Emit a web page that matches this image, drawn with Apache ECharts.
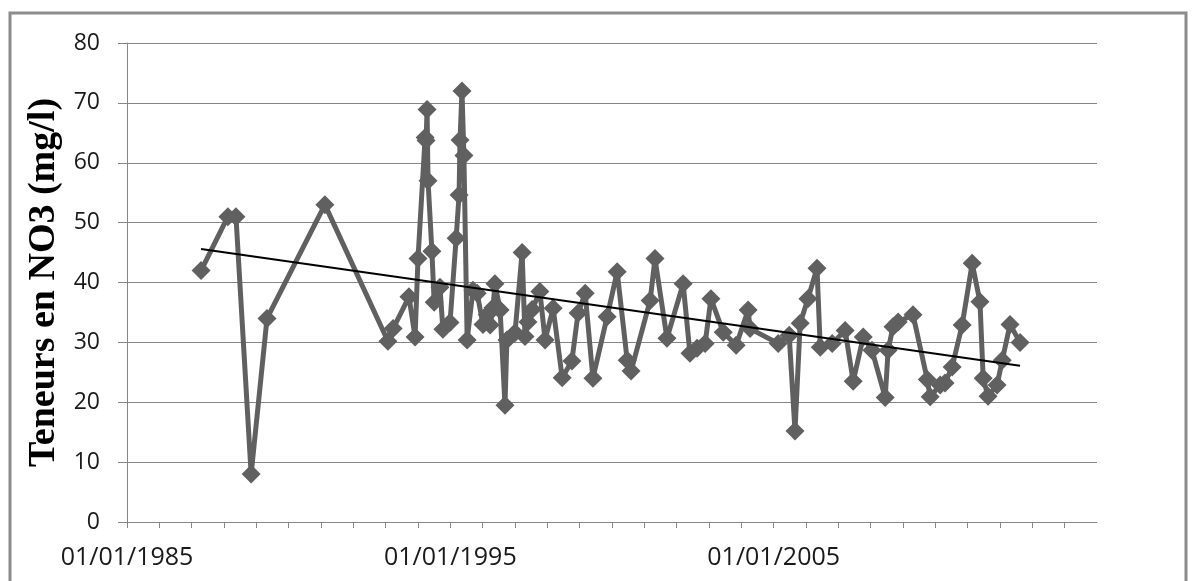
<!DOCTYPE html>
<html>
<head>
<meta charset="utf-8">
<script src="https://cdn.jsdelivr.net/npm/echarts@6/dist/echarts.min.js"></script>
<style>
html,body{margin:0;padding:0;background:#fff;}
#chart{width:1198px;height:581px;}
</style>
</head>
<body>
<div id="chart"></div>
<script>
// Sampling dates (decimal years) and nitrate concentrations (mg/l)
const dates = [1987.29,1988.12,1988.37,1988.84,1989.33,1991.12,1993.07,1993.23,1993.72,1993.91,1994.00,1994.22,1994.25,1994.28,1994.31,1994.43,1994.50,1994.68,1994.77,1994.99,1995.18,1995.27,1995.30,1995.36,1995.42,1995.52,1995.70,1995.83,1996.01,1996.14,1996.23,1996.32,1996.38,1996.54,1996.69,1996.75,1997.00,1997.22,1997.31,1997.40,1997.53,1997.77,1997.93,1998.18,1998.46,1998.76,1998.95,1999.17,1999.41,1999.85,2000.16,2000.47,2000.59,2001.18,2001.33,2001.70,2002.20,2002.41,2002.63,2002.88,2003.06,2003.44,2003.84,2004.21,2004.27,2005.14,2005.48,2005.66,2005.82,2006.06,2006.34,2006.44,2006.81,2007.21,2007.46,2007.77,2008.04,2008.45,2008.54,2008.69,2008.85,2009.31,2009.75,2009.84,2010.15,2010.30,2010.52,2010.83,2011.14,2011.38,2011.48,2011.63,2011.91,2012.07,2012.31,2012.62];
const values = [42.0,51.0,51.0,8.0,34.0,53.0,30.2,32.3,37.6,30.9,44.0,64.2,63.7,68.9,57.0,45.2,36.7,39.2,32.2,33.3,47.4,54.6,63.8,72.0,61.2,30.4,38.7,38.2,33.0,34.6,32.9,35.8,39.8,35.4,19.5,30.4,31.6,45.0,31.0,33.4,35.5,38.5,30.4,35.7,24.1,26.9,34.9,38.2,24.0,34.3,41.8,27.0,25.2,37.0,44.0,30.7,39.8,28.2,29.0,29.8,37.3,31.7,29.5,35.4,32.3,29.8,31.2,15.2,33.2,37.3,42.4,29.2,29.8,32.0,23.5,30.9,28.7,20.8,28.7,32.6,33.4,34.6,23.8,20.9,22.9,23.2,25.9,32.9,43.2,36.8,24.0,21.0,22.9,27.0,33.0,30.0];
// Linear trend line (endpoints)
const trendDates = [1987.29, 2012.62];
const trendValues = [45.6, 26.1];
// Axis labels
const xLabelYears = [1985, 1995, 2005];
const yAxisName = 'Teneurs en NO3 (mg/l)';

const chart = echarts.init(document.getElementById('chart'));
const mainData = dates.map((d, i) => [d, values[i]]);
const trendData = trendDates.map((d, i) => [d, trendValues[i]]);
const axisColor = '#868686';

chart.setOption({
  animation: false,
  backgroundColor: '#fff',
  graphic: [{
    type: 'rect',
    shape: { x: 10, y: 13, width: 1176, height: 600 },
    style: { fill: 'none', stroke: '#8c8c8c', lineWidth: 3 },
    z: 100
  }],
  grid: { left: 127, top: 43, right: 101, bottom: 59, containLabel: false },
  xAxis: {
    type: 'value',
    min: 1985, max: 2015, interval: 1,
    axisLine: { show: true, onZero: false, lineStyle: { color: axisColor, width: 1 } },
    axisTick: { show: true, inside: false, length: 6, lineStyle: { color: axisColor, width: 1 } },
    splitLine: { show: false },
    axisLabel: {
      margin: 23,
      color: '#1a1a1a',
      fontFamily: 'Open Sans',
      fontSize: 25,
      showMaxLabel: false,
      formatter: v => xLabelYears.indexOf(Math.round(v)) >= 0 ? '01/01/' + Math.round(v) : ''
    }
  },
  yAxis: {
    type: 'value',
    min: 0, max: 80, interval: 10,
    name: yAxisName,
    nameLocation: 'middle',
    nameGap: 58,
    nameRotate: 90,
    nameTextStyle: { fontFamily: 'Liberation Serif', fontWeight: 'bold', fontSize: 38, color: '#000' },
    axisLine: { show: true, lineStyle: { color: axisColor, width: 1 } },
    axisTick: { show: true, inside: false, length: 9, lineStyle: { color: axisColor, width: 1 } },
    splitLine: { show: true, lineStyle: { color: axisColor, width: 1 } },
    axisLabel: { margin: 27, color: '#1a1a1a', fontFamily: 'Open Sans', fontSize: 23 }
  },
  series: [{
    type: 'line',
    data: mainData,
    symbol: 'diamond',
    symbolSize: 19,
    showAllSymbol: true,
    lineStyle: { color: '#606060', width: 5 },
    itemStyle: { color: '#606060' },
    z: 2
  }, {
    type: 'line',
    data: trendData,
    symbol: 'none',
    lineStyle: { color: '#000', width: 2 },
    z: 3
  }]
});
</script>
</body>
</html>
